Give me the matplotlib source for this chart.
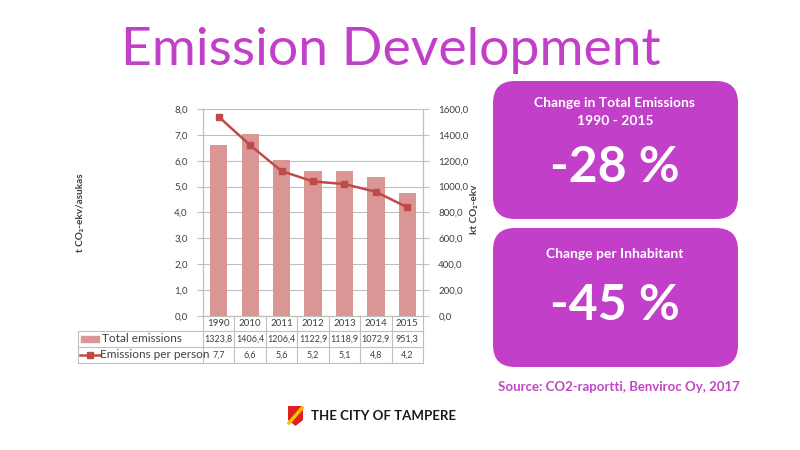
import numpy as np
import matplotlib.pyplot as plt
from matplotlib.patches import FancyBboxPatch, Rectangle, Polygon
from matplotlib.lines import Line2D
import matplotlib.transforms as mtransforms

plt.rcParams["font.family"] = ["Lato", "DejaVu Sans"]

# Data
years = ["1990", "2010", "2011", "2012", "2013", "2014", "2015"]
total_emissions = [1323.8, 1406.4, 1206.4, 1122.9, 1118.9, 1072.9, 951.3]
per_person = [7.7, 6.6, 5.6, 5.2, 5.1, 4.8, 4.2]
total_labels = ["1323,8", "1406,4", "1206,4", "1122,9", "1118,9", "1072,9", "951,3"]
person_labels = ["7,7", "6,6", "5,6", "5,2", "5,1", "4,8", "4,2"]
left_ticks = [0, 1, 2, 3, 4, 5, 6, 7, 8]
right_ticks = [0, 200, 400, 600, 800, 1000, 1200, 1400, 1600]

PURPLE = "#c23fc9"
BAR = "#d99694"
LINE = "#be4b48"
GRID = "#bfbfbf"
TXT = "#404040"

W, H = 800, 450
fig = plt.figure(figsize=(8, 4.5), dpi=100)


def fx(px):
    return px / W


def fy(py):
    return 1 - py / H


# Title
fig.text(fx(391), fy(51), "Emission Development", color=PURPLE, fontsize=38.5,
         ha="center", va="center")

# Chart area
x0, x1, ytop, ybot = 203, 423, 109, 316
ax = fig.add_axes([fx(x0), fy(ybot), fx(x1 - x0), (ybot - ytop) / H])
ax2 = ax.twinx()
x = np.arange(len(years))

ax2.bar(x, total_emissions, width=0.55, color=BAR, zorder=2)
ax.plot(x, per_person, color=LINE, lw=1.8, marker="s", ms=5,
        markerfacecolor=LINE, markeredgecolor=LINE, zorder=5)
ax.set_zorder(ax2.get_zorder() + 1)
ax.patch.set_visible(False)

ax.set_xlim(-0.5, len(years) - 0.5)
ax.set_ylim(0, 8)
ax2.set_ylim(0, 1600)
ax.set_yticks(left_ticks)
ax.set_yticklabels([f"{v:.1f}".replace(".", ",") for v in left_ticks])
ax2.set_yticks(right_ticks)
ax2.set_yticklabels([f"{v:.1f}".replace(".", ",") for v in right_ticks])
ax.set_xticks([])
ax2.yaxis.grid(True, color=GRID, lw=0.8)
ax2.set_axisbelow(True)

for a in (ax, ax2):
    a.spines["top"].set_visible(False)
    for s in ("left", "right", "bottom"):
        a.spines[s].set_color(GRID)
        a.spines[s].set_linewidth(0.8)
    a.tick_params(axis="y", length=4, color=GRID, labelsize=7,
                  labelcolor=TXT, pad=7)

fig.text(fx(81), fy(213), "t CO₂-ekv/asukas", fontsize=7.2,
         fontweight="bold", color=TXT, rotation=90, ha="center", va="center")
fig.text(fx(474), fy(209), "kt CO₂-ekv", fontsize=7.2, fontweight="bold",
         color=TXT, rotation=90, ha="center", va="center")

# Data table under the chart
trans = mtransforms.blended_transform_factory(ax.transData, fig.transFigure)
row_y = [323.5, 339, 355]
row_edges = [316, 331, 347, 363]
lx = 78
for i in range(len(years) + 1):
    ax.add_line(Line2D([i - 0.5, i - 0.5], [fy(316), fy(363)], transform=trans,
                       color=GRID, lw=0.8, clip_on=False))
for ry in row_edges[1:]:
    fig.add_artist(Line2D([fx(lx), fx(x1)], [fy(ry), fy(ry)], color=GRID, lw=0.8))
fig.add_artist(Line2D([fx(lx), fx(lx)], [fy(331), fy(363)], color=GRID, lw=0.8))

for i in range(len(years)):
    ax.text(i, fy(row_y[0]), years[i], transform=trans, ha="center",
            va="center", fontsize=7, color=TXT)
    ax.text(i, fy(row_y[1]), total_labels[i], transform=trans, ha="center",
            va="center", fontsize=6.5, color=TXT)
    ax.text(i, fy(row_y[2]), person_labels[i], transform=trans, ha="center",
            va="center", fontsize=6.5, color=TXT)

# Legend keys in the table
fig.add_artist(Rectangle((fx(81), fy(342)), fx(18), 6 / H, color=BAR))
fig.text(fx(102), fy(row_y[1]), "Total emissions", fontsize=8.5, color=TXT,
         va="center")
fig.add_artist(Line2D([fx(80), fx(100)], [fy(row_y[2]), fy(row_y[2])],
                      color=LINE, lw=1.8))
fig.add_artist(Line2D([fx(90)], [fy(row_y[2])], marker="s", ms=5,
                      color=LINE))
fig.text(fx(100), fy(row_y[2]), "Emissions per person", fontsize=8.5,
         color=TXT, va="center")

# Boxes on the right
for top, bot in [(81, 219), (228, 367)]:
    fig.add_artist(FancyBboxPatch((fx(493 + 18), fy(bot - 18)),
                                  fx(245 - 36), (bot - top - 36) / H,
                                  boxstyle="round,pad=0.0225,rounding_size=0.0275",
                                  mutation_aspect=W / H,
                                  facecolor=PURPLE, edgecolor="none"))

fig.text(fx(615), fy(103), "Change in Total Emissions", color="white",
         fontsize=10, fontweight="bold", ha="center", va="center")
fig.text(fx(615), fy(121), "1990 - 2015", color="white", fontsize=10,
         fontweight="bold", ha="center", va="center")
fig.text(fx(615), fy(167), "-28 %", color="white", fontsize=36,
         fontweight="bold", ha="center", va="center")
fig.text(fx(615), fy(254), "Change per Inhabitant", color="white",
         fontsize=10, fontweight="bold", ha="center", va="center")
fig.text(fx(615), fy(306), "-45 %", color="white", fontsize=36,
         fontweight="bold", ha="center", va="center")
fig.text(fx(619), fy(387), "Source: CO2-raportti, Benviroc Oy, 2017",
         color="#c046c4", fontsize=9.5, fontweight="bold", ha="center",
         va="center")

# Footer logo
shield = Polygon([(fx(288), fy(406)), (fx(303), fy(406)), (fx(303), fy(420)),
                  (fx(295.5), fy(426)), (fx(288), fy(420))],
                 closed=True, facecolor="#e02020", edgecolor="none")
fig.add_artist(shield)
fig.add_artist(Line2D([fx(289), fx(302)], [fy(423), fy(408)], color="#f5c400",
                      lw=2.5))
fig.text(fx(311), fy(416), "THE CITY OF TAMPERE", fontsize=9.5,
         fontweight="bold", color="#1a1a1a", va="center")

fig.savefig("out.png", dpi=100)
